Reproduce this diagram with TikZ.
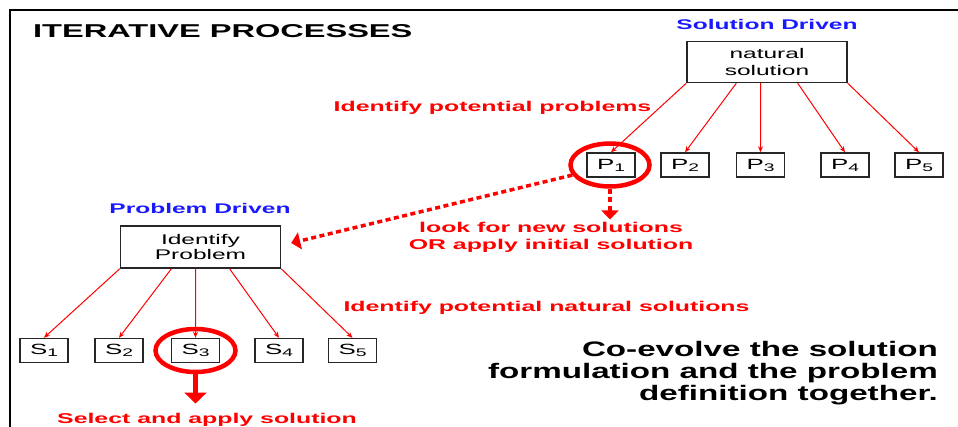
\documentclass[tikz,border=0pt]{standalone}
\usepackage{fontspec}
\setmainfont{Liberation Sans}
\newfontfamily\wf{Liberation Sans}[FakeStretch=1.75]
\newfontfamily\wfc{Liberation Sans}[FakeStretch=1.58]
\usetikzlibrary{arrows.meta,shapes.geometric,calc}
\definecolor{rd}{RGB}{255,0,0}
\definecolor{bl}{RGB}{25,25,255}
\newcommand{\subn}[1]{\raisebox{-2pt}{\fontsize{11}{11}\selectfont #1}}
\tikzset{
 box/.style={draw=black!85, line width=1.4pt, inner sep=0pt, align=center,
   font=\wf\fontsize{14}{16.5}\selectfont},
 pbox/.style={box, minimum width=48pt, minimum height=24pt,
   font=\wf\fontsize{14.8}{16}\selectfont},
 bigbox/.style={box, minimum width=160pt, minimum height=41pt},
 lab/.style={text=rd, inner sep=0pt, align=center,
   font=\wf\bfseries\fontsize{14.2}{16.5}\selectfont},
 hdr/.style={text=bl, inner sep=0pt, anchor=base,
   font=\wf\bfseries\fontsize{14}{16}\selectfont},
 thinarrow/.style={draw=rd, line width=1pt, -{Stealth[length=6pt,width=5pt]}},
 ring/.style={draw=rd, line width=4.5pt, ellipse, inner sep=0pt,
   minimum width=79pt, minimum height=43pt},
 dsharrow/.style={draw=rd, line width=3.5pt, dash pattern=on 5pt off 3.5pt,
   -{Triangle[length=9pt,width=17pt]}},
 bigarrow/.style={draw=rd, line width=5.5pt, -{Triangle[length=11pt,width=22pt]}},
}
\begin{document}
\begin{tikzpicture}[x=1pt,y=-1pt]
\useasboundingbox (0,0) rectangle (958,427);
% frame
\draw[line width=2.3pt] (10,427) -- (10,10) -- (958,10);
% title
\node[inner sep=0pt, anchor=base west, font=\wf\bfseries\fontsize{18.6}{20}\selectfont]
  (title) at (33,38) {ITERATIVE PROCESSES};

% solution driven
\node[hdr] (sd) at (767,30) {Solution Driven};
\node[bigbox] (ns) at (767,62) {natural\\solution};
\node[pbox] (p1) at (611,165) {P\subn{1}};
\node[pbox] (p2) at (685,165) {P\subn{2}};
\node[pbox] (p3) at (760.5,165) {P\subn{3}};
\node[pbox] (p4) at (845,165) {P\subn{4}};
\node[pbox] (p5) at (919,165) {P\subn{5}};
\draw[thinarrow] (ns.south west) -- (p1.north);
\draw[thinarrow] ($(ns.south west)!0.31!(ns.south east)$) -- (p2.north);
\draw[thinarrow] ($(ns.south west)!0.46!(ns.south east)$) -- (p3.north);
\draw[thinarrow] ($(ns.south west)!0.69!(ns.south east)$) -- (p4.north);
\draw[thinarrow] (ns.south east) -- (p5.north);
\node[lab, anchor=base] (idp) at (492.5,112) {Identify potential problems};
\node[ring] (c1) at (610,165) {};

% problem driven
\node[hdr] (pd) at (200,214) {Problem Driven};
\node[bigbox, minimum height=42pt, font=\wf\fontsize{14}{15.5}\selectfont] (ip) at (200.5,247) {Identify\\Problem};
\node[pbox] (s1) at (44,350.5) {S\subn{1}};
\node[pbox] (s2) at (119,350.5) {S\subn{2}};
\node[pbox] (s3) at (195.5,350.5) {S\subn{3}};
\node[pbox] (s4) at (279,350.5) {S\subn{4}};
\node[pbox] (s5) at (352.5,350.5) {S\subn{5}};
\draw[thinarrow] (ip.south west) -- (s1.north);
\draw[thinarrow] ($(ip.south west)!0.32!(ip.south east)$) -- (s2.north);
\draw[thinarrow] ($(ip.south west)!0.47!(ip.south east)$) -- (s3.north);
\draw[thinarrow] ($(ip.south west)!0.68!(ip.south east)$) -- (s4.north);
\draw[thinarrow] (ip.south east) -- (s5.north);
\node[lab, anchor=base] (ins) at (546.5,312) {Identify potential natural solutions};
\node[ring, minimum width=80pt, minimum height=43pt] (c3) at (195.5,350.5) {};
\node[lab, anchor=base] (sel) at (207,423) {Select and apply solution};
\draw[bigarrow] (c3.south) -- ($(c3.south |- sel.north)+(0,-9)$);

% iteration link
\node[lab] (look) at (551,237.5) {look for new solutions\\OR apply initial solution};
\coordinate (ipt) at ($(ip.east)+(10,-4)$);
\draw[dsharrow] (c1.195) -- (ipt);
\coordinate (lkt) at ($(c1.south |- look.north)+(0,-3)$);
\draw[dsharrow] (c1.south) -- (lkt);

% conclusion
\node[inner sep=0pt, anchor=east, align=right, font=\wfc\bfseries\fontsize{21}{22}\selectfont]
  (co) at (938,373) {Co-evolve the solution\\formulation and the problem\\definition together.};
\end{tikzpicture}
\end{document}
